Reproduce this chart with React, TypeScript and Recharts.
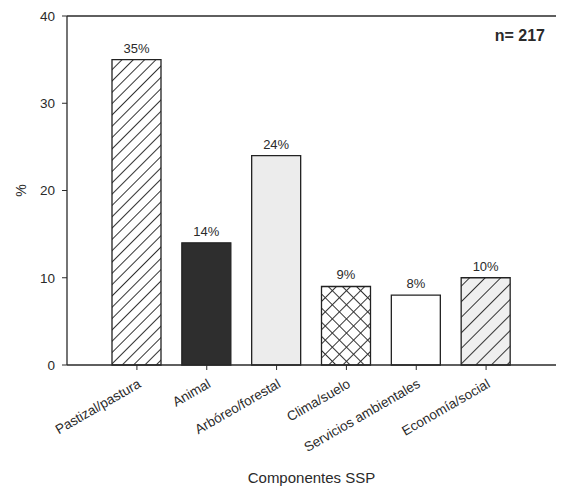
import React from 'react';
import {
  BarChart,
  Bar,
  Cell,
  XAxis,
  YAxis,
  ReferenceLine,
  LabelList,
  Label
} from 'recharts';

const categories = [
  'Pastizal/pastura',
  'Animal',
  'Arbóreo/forestal',
  'Clima/suelo',
  'Servicios ambientales',
  'Economía/social'
];
const percentages = [35, 14, 24, 9, 8, 10];
const majorTicks = [0, 10, 20, 30, 40];
const minorTicks = [5, 15, 25, 35];

const fills = [
  'url(#hatch)',
  '#2e2e2e',
  '#ececec',
  'url(#cross)',
  '#ffffff',
  'url(#hatchGrey)'
];

const data = categories.map((name, i) => ({ name, value: percentages[i] }));

const FONT = '"Liberation Sans", Arial, sans-serif';
const INK = '#2a2a2a';

const noTick = () => <g />;

const XTick = (props: any) => {
  const { x, y, payload } = props;
  return (
    <g transform={`translate(${x},${y})`}>
      <text
        x={-3}
        y={15}
        textAnchor="end"
        transform="rotate(-30)"
        fontSize={13.5}
        fontFamily={FONT}
        fill={INK}
      >
        {payload.value}
      </text>
    </g>
  );
};

const Patterns = () => (
  <svg width={0} height={0} style={{ position: 'absolute' }}>
    <defs>
      <pattern id="hatch" patternUnits="userSpaceOnUse" width={8} height={8} patternTransform="rotate(45)">
        <rect width={8} height={8} fill="#fff" />
        <line x1={0} y1={0} x2={0} y2={8} stroke="#333" strokeWidth={2} />
      </pattern>
      <pattern id="hatchGrey" patternUnits="userSpaceOnUse" width={11} height={11} patternTransform="rotate(45)">
        <rect width={11} height={11} fill="#efefef" />
        <line x1={0} y1={0} x2={0} y2={11} stroke="#333" strokeWidth={2} />
      </pattern>
      <pattern id="cross" patternUnits="userSpaceOnUse" width={10} height={10} patternTransform="rotate(45)">
        <rect width={10} height={10} fill="#fff" />
        <line x1={0} y1={0} x2={0} y2={10} stroke="#333" strokeWidth={2} />
        <line x1={0} y1={0} x2={10} y2={0} stroke="#333" strokeWidth={2} />
      </pattern>
    </defs>
  </svg>
);

export default function App() {
  return (
    <div style={{ position: 'absolute', left: 0, top: 0, width: 563, height: 492, background: '#fff' }}>
      <Patterns />
      <BarChart
        width={563}
        height={492}
        data={data}
        margin={{ top: 16, right: 7, left: 7, bottom: 7 }}
      >
        <XAxis
          dataKey="name"
          interval={0}
          height={120}
          padding={{ left: 35, right: 35 }}
          tick={<XTick />}
          tickSize={5}
          stroke={INK}
          axisLine={{ stroke: INK, strokeWidth: 1.3 }}
          tickLine={{ stroke: INK }}
        >
          <Label
            value="Componentes SSP"
            position="insideBottom"
            offset={2}
            fontSize={15}
            fontFamily={FONT}
            fill={INK}
          />
        </XAxis>
        <YAxis
          width={60}
          domain={[0, 40]}
          ticks={majorTicks}
          interval={0}
          tickSize={5}
          tickMargin={7}
          tick={{ fontSize: 13.5, fontFamily: FONT, fill: INK }}
          axisLine={{ stroke: INK, strokeWidth: 1.3 }}
          tickLine={{ stroke: INK }}
        >
          <Label
            content={(p: any) => {
              const vb = p.viewBox;
              return (
                <text
                  x={vb.x + 14}
                  y={vb.y + vb.height / 2}
                  textAnchor="middle"
                  dominantBaseline="central"
                  transform={`rotate(-90, ${vb.x + 14}, ${vb.y + vb.height / 2})`}
                  fontSize={14}
                  fontFamily={FONT}
                  fill={INK}
                >
                  %
                </text>
              );
            }}
          />
        </YAxis>
        <YAxis
          yAxisId="minor"
          orientation="left"
          mirror
          width={0}
          domain={[0, 40]}
          ticks={minorTicks}
          interval={0}
          tickSize={3}
          tick={noTick}
          axisLine={false}
          tickLine={{ stroke: INK }}
        />
        <YAxis
          yAxisId="right"
          orientation="right"
          mirror
          width={0}
          domain={[0, 40]}
          ticks={minorTicks}
          interval={0}
          tickSize={3}
          tick={noTick}
          axisLine={{ stroke: INK, strokeWidth: 1.3 }}
          tickLine={{ stroke: INK }}
        />
        <ReferenceLine
          y={40}
          stroke={INK}
          strokeWidth={1.3}
          label={
            <Label
              content={(p: any) => {
                const vb = p.viewBox;
                return (
                  <text
                    x={vb.x + vb.width - 11}
                    y={vb.y + 25}
                    textAnchor="end"
                    fontSize={16}
                    fontWeight="bold"
                    fontFamily={FONT}
                    fill={INK}
                  >
                    n= 217
                  </text>
                );
              }}
            />
          }
        />
        <Bar dataKey="value" barSize={49} stroke="#222" strokeWidth={1.3} isAnimationActive={false}>
          {data.map((d, i) => (
            <Cell key={d.name} fill={fills[i]} />
          ))}
          <LabelList
            dataKey="value"
            position="top"
            offset={7}
            formatter={(v: any) => `${v}%`}
            fontSize={13}
            fontFamily={FONT}
            fill={INK}
          />
        </Bar>
      </BarChart>
    </div>
  );
}
